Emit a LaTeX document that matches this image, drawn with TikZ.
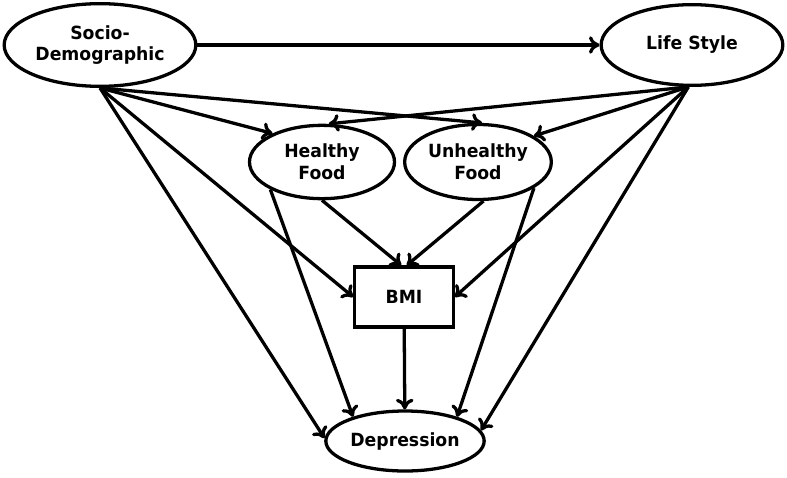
\documentclass[tikz,border=0pt]{standalone}
\usepackage{fontspec}
\setmainfont{DejaVu Sans}[FakeStretch=0.95]
\usetikzlibrary{shapes.geometric}
\usetikzlibrary{arrows.meta}

\begin{document}
\begin{tikzpicture}[x=0.03cm,y=-0.03cm]
    \tikzstyle{every node}=[font=\bfseries\fontsize{15.5}{18.5}\selectfont,align=center,inner sep=0pt]
    \tikzstyle{var}=[ellipse,draw=black,line width=2.8pt]
    \tikzstyle{link}=[line width=2.8pt,-{To[length=9pt,width=15pt]}]

   \useasboundingbox (0,0) rectangle (787,477);

   \node[var,minimum width=5.75cm,minimum height=2.48cm] (socio) at (100,45) {Socio-\\Demographic};
   \node[var,minimum width=5.45cm,minimum height=2.42cm] (life) at (692,45) {Life Style};
   \node[var,minimum width=4.35cm,minimum height=2.2cm] (healthy) at (322,162) {Healthy\\Food};
   \node[var,minimum width=4.4cm,minimum height=2.25cm] (unhealthy) at (478,162) {Unhealthy\\Food};
   \node[draw=black,line width=2.8pt,minimum width=2.95cm,minimum height=1.8cm] (bmi) at (404,297) {BMI};
   \node[var,minimum width=4.75cm,minimum height=1.8cm] (dep) at (405,441) {Depression};

   \draw[link] (socio) -- (life);

   \draw[link] (socio.south) -- (healthy.150);
   \draw[link] (socio.south) -- (unhealthy.84);
   \draw[link] (socio.south) -- (bmi.west);
   \draw[link] (socio.south) -- (dep.178);

   \draw[link] (life.-95) -- (healthy.80);
   \draw[link] (life.-95) -- (unhealthy.25);
   \draw[link] (life.-95) -- (bmi.east);
   \draw[link] (life.-95) -- (dep.8);

   \draw[link] (healthy.south) -- (bmi.95);
   \draw[link] (healthy.-152) -- (dep.155);
   \draw[link] (unhealthy.-82) -- (bmi.85);
   \draw[link] (unhealthy.-25) -- (dep.25);

   \draw[link] (bmi) -- (dep);

\end{tikzpicture}
\end{document}
